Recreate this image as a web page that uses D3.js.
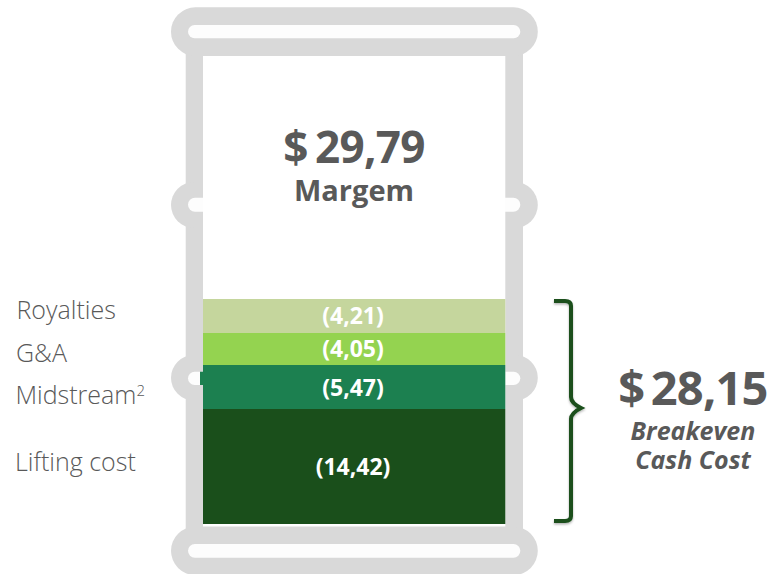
<!DOCTYPE html>
<html>
<head>
<meta charset="utf-8">
<script src="https://cdn.jsdelivr.net/npm/d3@7"></script>
<style>
html,body{margin:0;padding:0;background:#fff}
svg{display:block}
text{font-family:"Open Sans",sans-serif}
</style>
</head>
<body>
<div id="chart"></div>
<script>
const categories = ["Lifting cost", "Midstream", "G&A", "Royalties"];
const values = [14.42, 5.47, 4.05, 4.21];
const valueLabels = ["(14,42)", "(5,47)", "(4,05)", "(4,21)"];
const colors = ["#1A4F1B", "#1C8050", "#94D350", "#C5D69D"];
const marginValue = 29.79;
const marginLabel = "$ 29,79";
const marginName = "Margem";
const totalValue = 28.15;
const totalLabel = "$ 28,15";
const totalName = ["Breakeven", "Cash Cost"];

const W = 774, H = 574, gray = "#D9D9D9", textCol = "#595959", hoopIn = "#FDFDFD";
const svg = d3.select("#chart").append("svg").attr("width", W).attr("height", H);

const defs = svg.append("defs");
const f = defs.append("filter").attr("id", "sh").attr("x", "-30%").attr("y", "-10%").attr("width", "160%").attr("height", "120%");
f.append("feDropShadow").attr("dx", 0).attr("dy", 1.5).attr("stdDeviation", 1.2).attr("flood-color", "#000").attr("flood-opacity", 0.3);

const x0 = 203, x1 = 505.3;
const y = d3.scaleLinear().domain([0, totalValue]).range([524, 299]).interpolate(d3.interpolateRound);
let acc = 0;
const stack = values.map((v, i) => { const s = {i, v, y0: acc, y1: acc + v}; acc += v; return s; });

// barrel body
const barrel = svg.append("g");
barrel.append("rect").attr("x", 185.7).attr("y", 40).attr("width", 337.3).attr("height", 500).attr("fill", gray);
const hoops = [
  {yo: 7.3, yb: 56, yi: 25, yj: 38.3},
  {yo: 182, yb: 228, yi: 197.7, yj: 211.7},
  {yo: 355, yb: 400.5, yi: 371.7, yj: 385},
  {yo: 526.7, yb: 575, yi: 544, yj: 557.7}
];
hoops.forEach(h => {
  const hh = h.yb - h.yo;
  barrel.append("rect").attr("x", 171).attr("y", h.yo).attr("width", 366.8).attr("height", hh).attr("rx", hh / 2).attr("fill", gray);
  barrel.append("rect").attr("x", 188).attr("y", h.yi).attr("width", 332.3).attr("height", h.yj - h.yi).attr("rx", (h.yj - h.yi) / 2).attr("fill", hoopIn);
});
// interior
barrel.append("rect").attr("x", x0).attr("y", 56).attr("width", x1 - x0).attr("height", 470.5).attr("fill", "#fff");

// segments
svg.append("rect").attr("x", 200).attr("y", 371.7).attr("width", 4).attr("height", 13.3).attr("fill", colors[1]);
svg.selectAll("rect.seg").data(stack).join("rect").attr("class", "seg")
  .attr("x", x0).attr("width", x1 - x0)
  .attr("y", d => y(d.y1)).attr("height", d => y(d.y0) - y(d.y1))
  .attr("fill", d => colors[d.i]);

// value labels
const labelOffset = [0, 0.5, 0, 0];
svg.selectAll("text.val").data(stack).join("text").attr("class", "val")
  .attr("x", 353).attr("y", d => (y(d.y0) + y(d.y1)) / 2 + 8 + labelOffset[d.i])
  .attr("text-anchor", "middle").attr("font-size", 23).attr("font-weight", 700).attr("fill", "#fff")
  .text(d => valueLabels[d.i]);

// category labels
const catX = [15, 15.5, 16, 16.5], catY = [471, 404, 362, 319];
categories.forEach((c, i) => {
  const t = svg.append("text").attr("x", catX[i]).attr("y", catY[i]).attr("font-size", 25).attr("font-weight", 300).attr("fill", textCol);
  t.append("tspan").text(c);
  if (c === "Midstream") t.append("tspan").attr("font-size", 15).attr("dy", -8).text("2");
});

// margin text
svg.append("text").attr("x", 354).attr("y", 163).attr("text-anchor", "middle").attr("font-size", 44).attr("font-weight", 700).attr("letter-spacing", -0.7).attr("word-spacing", -3.5).attr("fill", textCol).text(marginLabel);
svg.append("text").attr("x", 354).attr("y", 200.5).attr("text-anchor", "middle").attr("font-size", 29).attr("font-weight", 700).attr("fill", textCol).text(marginName);

// brace
const bt = y(totalValue) + 2, bb = y(0) - 3, bm = y(stack[1].y0) - 1;
const brace = d3.path();
brace.moveTo(554, bt);
brace.lineTo(565, bt);
brace.quadraticCurveTo(571, bt, 571, bt + 5);
brace.lineTo(571, bm - 11);
brace.quadraticCurveTo(571, bm - 5, 581, bm);
brace.quadraticCurveTo(571, bm + 5, 571, bm + 11);
brace.lineTo(571, bb - 5);
brace.quadraticCurveTo(571, bb, 565, bb);
brace.lineTo(554, bb);
svg.append("path").attr("d", brace.toString()).attr("fill", "none").attr("stroke", "#1A4F1B").attr("stroke-width", 4).attr("filter", "url(#sh)");

// total text
svg.append("text").attr("x", 693).attr("y", 405).attr("text-anchor", "middle").attr("font-size", 47).attr("font-weight", 700).attr("letter-spacing", -0.8).attr("word-spacing", -5).attr("fill", textCol).text(totalLabel);
totalName.forEach((t, i) => svg.append("text").attr("x", 693).attr("y", 440 + i * 28.5).attr("text-anchor", "middle").attr("font-size", 25).attr("font-weight", 700).attr("font-style", "italic").attr("fill", textCol).text(t));
</script>
</body>
</html>
